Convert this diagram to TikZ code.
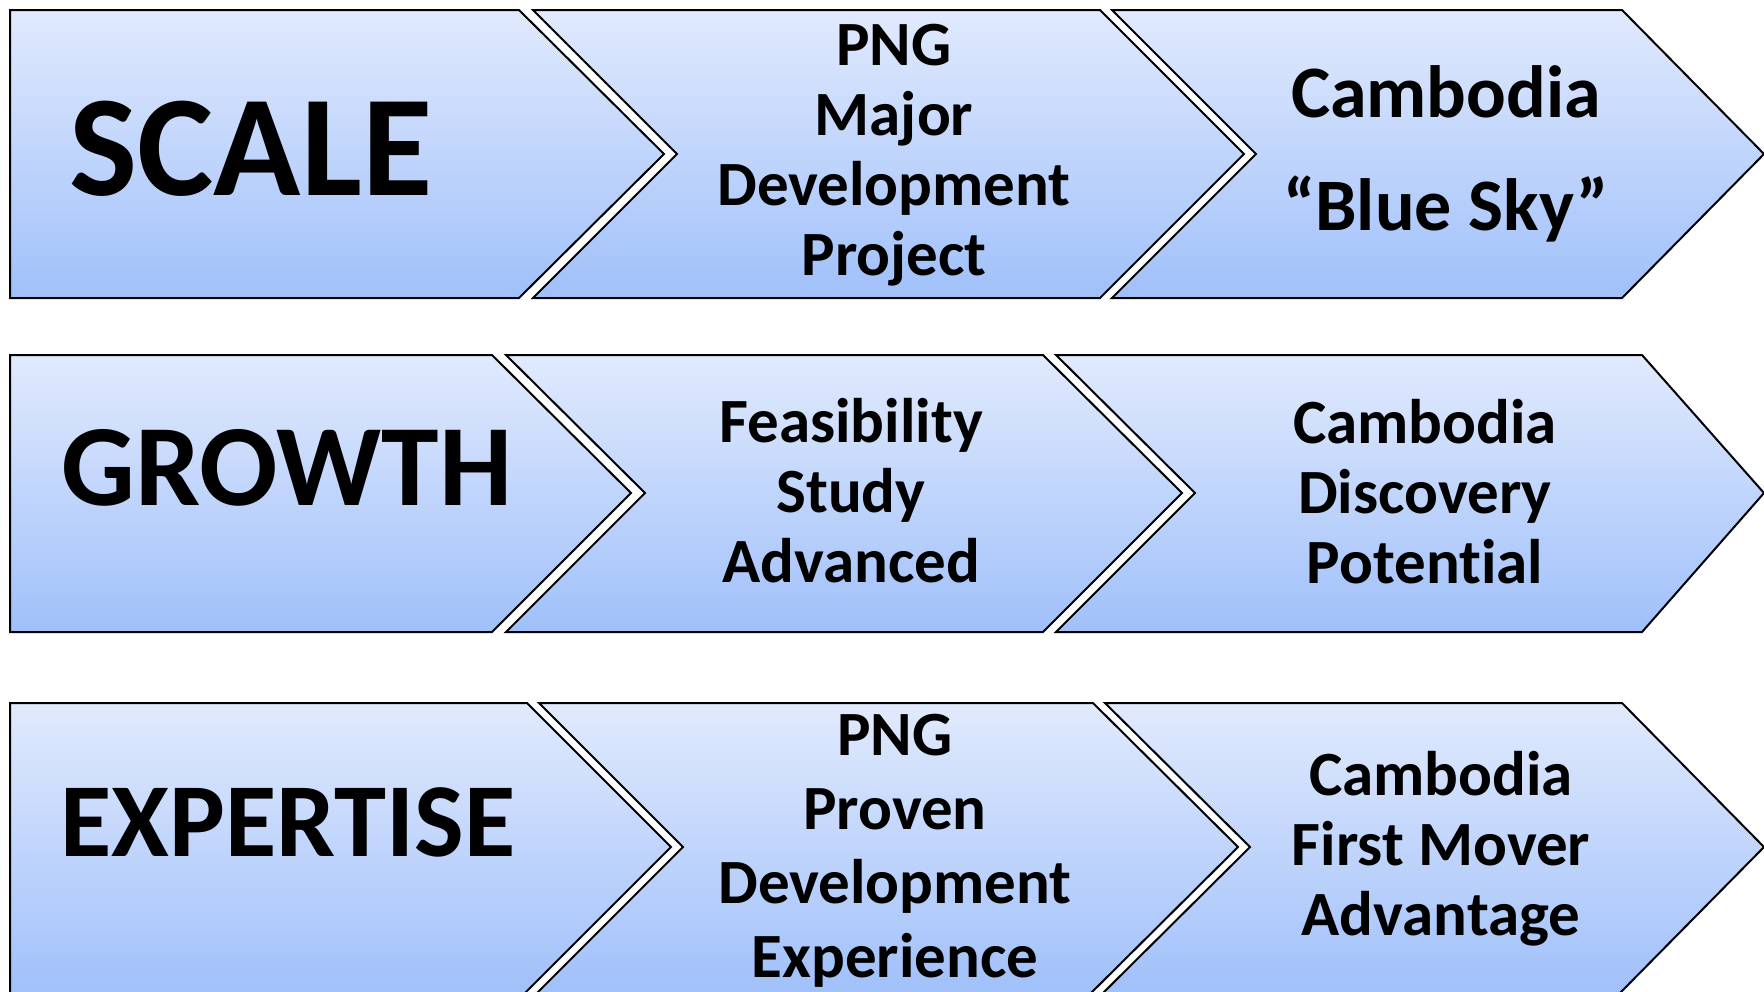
\documentclass[tikz,border=0pt]{standalone}
\usepackage{fontspec}
\setmainfont{Carlito}[Ligatures={NoCommon}]
\definecolor{topblue}{RGB}{225,234,253}
\definecolor{botblue}{RGB}{160,192,250}
\begin{document}
\begin{tikzpicture}[x=0.5pt,y=-0.5pt,
  chev/.style={draw=black, line width=1pt, line join=miter, top color=topblue, bottom color=botblue},
  lbl/.style={font=\bfseries\fontsize{31.5}{35}\selectfont, align=center, inner sep=0pt, anchor=base},
  big/.style={font=\bfseries, inner sep=0pt, anchor=base}]
\useasboundingbox[fill=white] (0,0) rectangle (1764,991);
% Row 1
\path[chev] (10,10) -- (519,10) -- (664,154) -- (519,298) -- (10,298) -- cycle;
\path[chev] (533,10) -- (1100,10) -- (1244,154) -- (1100,298) -- (533,298) -- (677,154) -- cycle;
\path[chev] (1112,10) -- (1622,10) -- (1764,154) -- (1622,298) -- (1112,298) -- (1256,154) -- cycle;
% Row 2
\path[chev] (10,355) -- (492,355) -- (631,493) -- (492,632) -- (10,632) -- cycle;
\path[chev] (506,355) -- (1043,355) -- (1182,493) -- (1043,632) -- (506,632) -- (645,493) -- cycle;
\path[chev] (1056,355) -- (1642,355) -- (1764,493) -- (1642,632) -- (1056,632) -- (1195,493) -- cycle;
% Row 3 (bottom edge runs off the page)
\path[chev] (10,703) -- (527,703) -- (671,847) -- (524,994) -- (10,994) -- cycle;
\path[chev] (539,703) -- (1093,703) -- (1238,847) -- (1090,994) -- (536,994) -- (683,847) -- cycle;
\path[chev] (1105,703) -- (1622,703) -- (1764,847) -- (1619,994) -- (1102,994) -- (1250,847) -- cycle;
% Texts (anchor = baseline of last line)
\node[big, font=\bfseries\fontsize{72}{80}\selectfont] (scale) at (251,195) {SCALE};
\node[big, font=\bfseries\fontsize{58}{64}\selectfont] (growth) at (287,505) {GROWTH};
\node[big, font=\bfseries\fontsize{52.5}{58}\selectfont] (expertise) at (288,856) {EXPERTISE};
\node[lbl] (png1) at (894,275) {PNG\\Major\\Development\\Project};
\node[lbl, font=\bfseries\fontsize{37}{56.5}\selectfont] (camb1) at (1446,230) {Cambodia\\“Blue Sky”};
\node[lbl] (feas) at (851,582) {Feasibility\\Study\\Advanced};
\node[lbl] (camb2) at (1425,583) {Cambodia\\Discovery\\Potential};
\node[lbl, font=\bfseries\fontsize{31.5}{37}\selectfont] (png3) at (895,977) {PNG\\Proven\\Development\\Experience};
\node[lbl] (camb3) at (1441,935) {Cambodia\\First Mover\\Advantage};
\end{tikzpicture}
\end{document}
